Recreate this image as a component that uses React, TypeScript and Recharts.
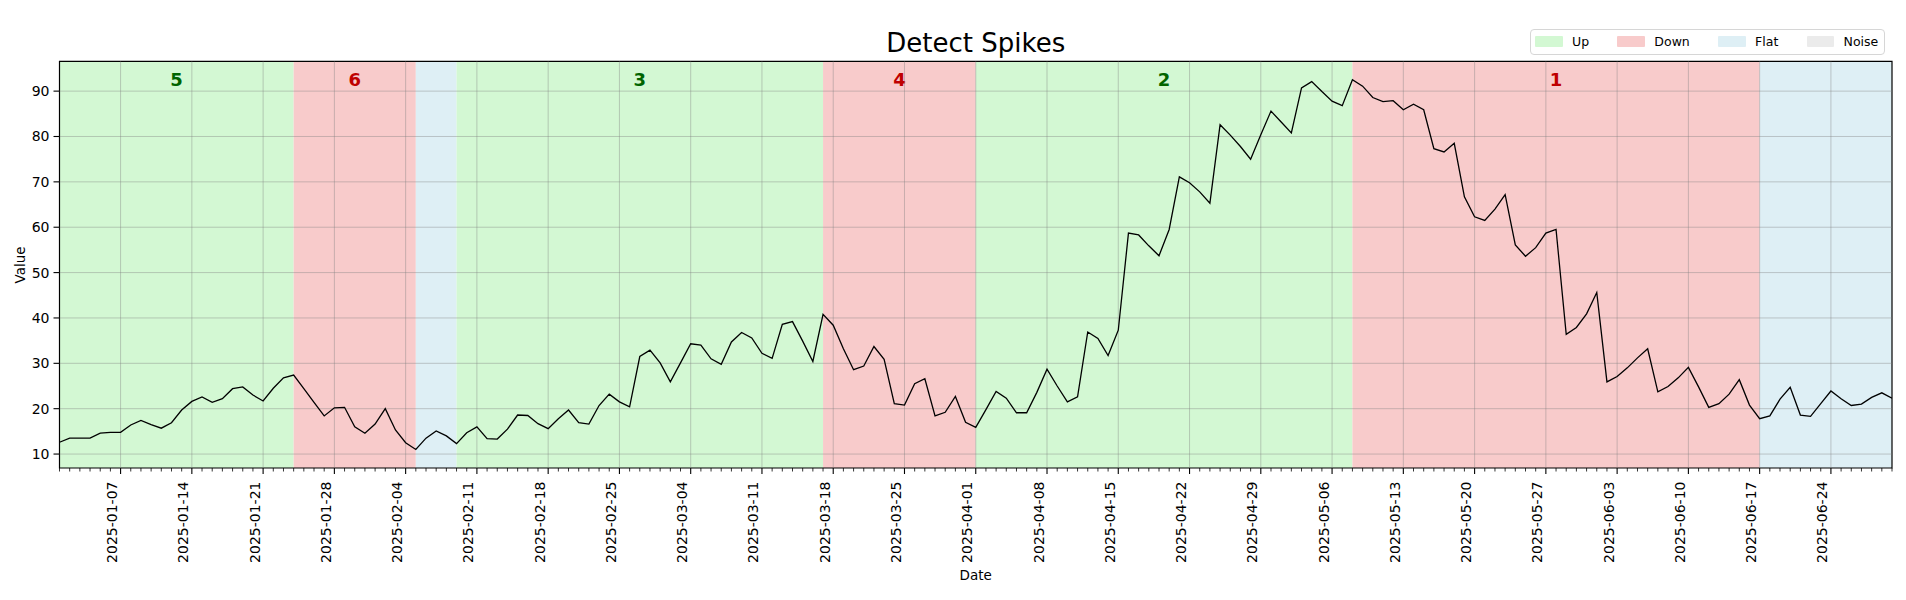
import { LineChart, Line, XAxis, YAxis, ReferenceArea, ReferenceLine } from "recharts"

const startDate = "2025-01-01"

// one reading per day, 2025-01-01 .. 2025-06-30
const values = [
  12.6, 13.5, 13.5, 13.5, 14.6, 14.8, 14.8, 16.4, 17.4, 16.5,
  15.7, 16.9, 19.7, 21.6, 22.6, 21.4, 22.2, 24.4, 24.8, 23.0,
  21.7, 24.5, 26.8, 27.4, 24.4, 21.4, 18.4, 20.2, 20.3, 16.0,
  14.6, 16.6, 20.0, 15.3, 12.5, 11.0, 13.5, 15.1, 14.0, 12.3,
  14.7, 16.0, 13.4, 13.3, 15.5, 18.6, 18.5, 16.7, 15.6, 17.8,
  19.7, 16.9, 16.6, 20.7, 23.2, 21.5, 20.4, 31.5, 32.9, 30.1,
  25.9, 30.1, 34.3, 34.0, 31.0, 29.8, 34.7, 36.8, 35.6, 32.2,
  31.1, 38.6, 39.2, 34.9, 30.4, 40.8, 38.4, 33.2, 28.6, 29.4,
  33.7, 30.9, 21.1, 20.8, 25.5, 26.6, 18.4, 19.2, 22.7, 17.0,
  15.9, 19.8, 23.8, 22.3, 19.1, 19.1, 23.6, 28.7, 25.0, 21.5,
  22.6, 36.9, 35.5, 31.7, 37.3, 58.7, 58.3, 55.9, 53.7, 59.5,
  71.1, 69.8, 67.8, 65.3, 82.6, 80.3, 77.8, 75.0, 80.4, 85.6,
  83.2, 80.8, 90.7, 92.1, 89.9, 87.8, 86.8, 92.5, 91.1, 88.6,
  87.7, 87.9, 85.9, 87.1, 85.9, 77.3, 76.6, 78.5, 66.7, 62.3,
  61.5, 64.0, 67.2, 56.1, 53.6, 55.5, 58.7, 59.5, 36.4, 37.9,
  40.9, 45.6, 25.9, 27.1, 29.0, 31.2, 33.2, 23.7, 24.9, 26.8,
  29.1, 24.8, 20.3, 21.1, 23.2, 26.4, 20.8, 17.8, 18.4, 22.1,
  24.7, 18.6, 18.3, 21.1, 23.9, 22.2, 20.7, 21.0, 22.5, 23.5,
  22.3,
]

// detected segments
const segStarts = ["2025-01-01", "2025-01-24", "2025-02-05", "2025-02-09", "2025-03-17", "2025-04-01", "2025-05-08", "2025-06-17"]
const segEnds = ["2025-01-24", "2025-02-05", "2025-02-09", "2025-03-17", "2025-04-01", "2025-05-08", "2025-06-17", "2025-06-30"]
const segKinds = ["Up", "Down", "Flat", "Up", "Down", "Up", "Down", "Flat"]
const segRanks = ["5", "6", "", "3", "4", "2", "1", ""]

const legendNames = ["Up", "Down", "Flat", "Noise"]
const kindColors: Record<string, string> = { Up: "#d3f8d3", Down: "#f8cbcb", Flat: "#deeff5", Noise: "#ebebeb" }
const rankColors: Record<string, string> = { Up: "#006400", Down: "#bf0000" }

const tickLabels = [
  "2025-01-07", "2025-01-14", "2025-01-21", "2025-01-28", "2025-02-04", "2025-02-11", "2025-02-18",
  "2025-02-25", "2025-03-04", "2025-03-11", "2025-03-18", "2025-03-25", "2025-04-01", "2025-04-08",
  "2025-04-15", "2025-04-22", "2025-04-29", "2025-05-06", "2025-05-13", "2025-05-20", "2025-05-27",
  "2025-06-03", "2025-06-10", "2025-06-17", "2025-06-24",
]
const yTicks = [10, 20, 30, 40, 50, 60, 70, 80, 90]

const DAY = 86400000
const dayOf = (d: string) => Math.round((Date.parse(d) - Date.parse(startDate)) / DAY)
const dateOf = (i: number) => new Date(Date.parse(startDate) + i * DAY).toISOString().slice(0, 10)

const data = values.map((v, i) => ({ day: i, date: dateOf(i), value: v }))
const allDays = values.map((_, i) => i)
const majorDays = tickLabels.map(dayOf)
const lastDay = values.length - 1

// matplotlib-like 5% y margin
const vMin = Math.min(...values)
const vMax = Math.max(...values)
const yMin = vMin - (vMax - vMin) * 0.05
const yMax = vMax + (vMax - vMin) * 0.05

const font = "DejaVu Sans"

function DateTick(props: any) {
  const { x, y, payload } = props
  const major = majorDays.includes(payload.value)
  return (
    <g>
      <line x1={x} x2={x} y1={y} y2={y + (major ? 6 : 3.5)} stroke="#000" strokeWidth={major ? 1.1 : 0.8} />
      {major && (
        <text transform={`translate(${x - 3.5},${y + 13.5}) rotate(-90)`} textAnchor="end" fontSize={14} fontFamily={font} fill="#000">
          {dateOf(payload.value)}
        </text>
      )}
    </g>
  )
}

function SpanLabel(props: any) {
  const { viewBox, text, color } = props
  if (!viewBox || !text) return null
  return (
    <text x={viewBox.x + viewBox.width / 2} y={viewBox.y + 25} textAnchor="middle" fill={color} fontSize={18} fontWeight="bold" fontFamily={font}>
      {text}
    </text>
  )
}

export default function App() {
  return (
    <div style={{ position: "relative", width: 1890, height: 584, fontFamily: font }}>
      <div style={{ position: "absolute", left: 767.75, top: 21.5, width: 400, textAlign: "center", fontSize: 26, lineHeight: "26px", color: "#000" }}>
        Detect Spikes
      </div>

      <div style={{ position: "absolute", left: 1522, top: 20.7, width: 355.3, height: 26.3, boxSizing: "border-box", border: "1px solid #d6d6d6", borderRadius: 4, background: "#fff", display: "flex", alignItems: "center", paddingLeft: 4, zIndex: 2 }}>
        {legendNames.map((n) => (
          <div key={n} style={{ display: "flex", alignItems: "center", marginRight: 28.3 }}>
            <div style={{ width: 27.7, height: 11.3, background: kindColors[n], borderRadius: 1 }} />
            <span style={{ marginLeft: 9.3, fontSize: 12.5, lineHeight: "14px", color: "#000" }}>{n}</span>
          </div>
        ))}
      </div>

      <div style={{ position: "absolute", left: 867.75, top: 561.3, width: 200, textAlign: "center", fontSize: 13.5, lineHeight: "13.5px", color: "#000" }}>
        Date
      </div>
      <div style={{ position: "absolute", left: 11.5 - 50, top: 256.5 - 7, width: 100, textAlign: "center", fontSize: 13.5, lineHeight: "14px", color: "#000", transform: "rotate(-90deg)" }}>
        Value
      </div>

      <LineChart width={1890} height={584} data={data} margin={{ top: 53.3, right: 6, bottom: 94, left: 6.5 }}>
        <XAxis
          dataKey="day"
          type="number"
          domain={[0, lastDay]}
          ticks={allDays}
          interval={0}
          tickSize={0}
          tickMargin={0}
          tickLine={false}
          axisLine={false}
          tick={<DateTick />}
          height={30}
          allowDataOverflow
        />
        <YAxis
          type="number"
          domain={[yMin, yMax]}
          ticks={yTicks}
          width={45}
          tickSize={6}
          tickMargin={4}
          axisLine={false}
          tickLine={{ stroke: "#000", strokeWidth: 1.1 }}
          tick={{ fontSize: 14, fill: "#000", fontFamily: font }}
          allowDataOverflow
        />
        {segStarts.map((s, i) => (
          <ReferenceArea
            key={`seg-${i}`}
            x1={dayOf(s)}
            x2={dayOf(segEnds[i])}
            fill={kindColors[segKinds[i]]}
            fillOpacity={1}
            stroke="none"
            ifOverflow="visible"
            label={<SpanLabel text={segRanks[i]} color={rankColors[segKinds[i]]} />}
          />
        ))}
        {yTicks.map((t) => (
          <ReferenceLine key={`gy-${t}`} y={t} stroke="#808080" strokeOpacity={0.4} strokeWidth={1} />
        ))}
        {majorDays.map((d) => (
          <ReferenceLine key={`gx-${d}`} x={d} stroke="#808080" strokeOpacity={0.4} strokeWidth={1} />
        ))}
        <Line type="linear" dataKey="value" stroke="#000" strokeWidth={1.3} dot={false} isAnimationActive={false} />
        <ReferenceArea x1={0} x2={lastDay} y1={yMin} y2={yMax} fill="none" stroke="#000" strokeWidth={1.2} ifOverflow="visible" />
      </LineChart>
    </div>
  )
}
